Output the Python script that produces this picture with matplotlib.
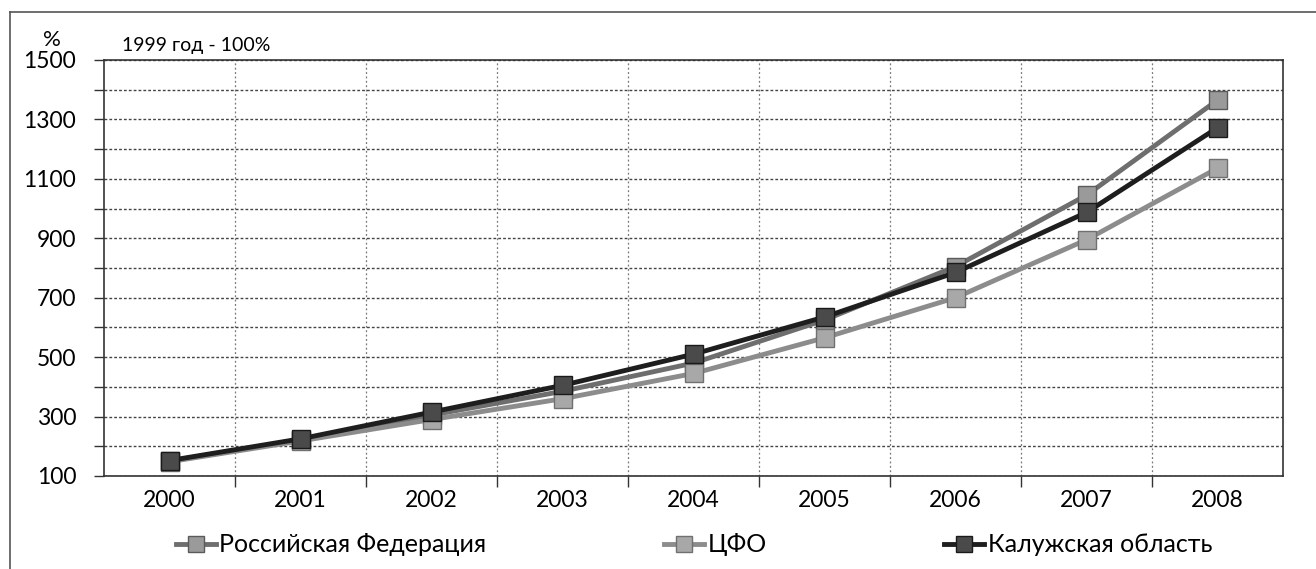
import matplotlib
matplotlib.use("Agg")
import matplotlib.pyplot as plt
from matplotlib.lines import Line2D
from matplotlib.ticker import FixedLocator

plt.rcParams['font.family'] = ['Lato', 'DejaVu Sans']

# values (1999 = 100%)
years = ['2000', '2001', '2002', '2003', '2004', '2005', '2006', '2007', '2008']
rf = [150, 222, 305, 385, 480, 625, 805, 1045, 1365]
cfo = [148, 218, 290, 360, 445, 565, 700, 895, 1136]
kaluga = [152, 225, 315, 405, 510, 635, 785, 987, 1272]

series_names = ['Российская Федерация', 'ЦФО', 'Калужская область']

W, H = 1316, 569
fig = plt.figure(figsize=(W / 100, H / 100), dpi=100)
ax = fig.add_axes([104 / W, 1 - 476 / H, (1283 - 104) / W, (476 - 60) / H])

x = list(range(len(years)))
ax.plot(x, rf, color='#6e6e6e', lw=3.5, marker='s', ms=13,
        mfc='#9a9a9a', mec='#5a5a5a', mew=1, label=series_names[0], zorder=3)
ax.plot(x, cfo, color='#8c8c8c', lw=3.5, marker='s', ms=13,
        mfc='#a8a8a8', mec='#707070', mew=1, label=series_names[1], zorder=3)
ax.plot(x, kaluga, color='#1e1e1e', lw=3.5, marker='s', ms=13,
        mfc='#4a4a4a', mec='#1a1a1a', mew=1, label=series_names[2], zorder=4)

ax.set_xlim(-0.5, len(years) - 0.5)
ax.set_ylim(100, 1500)

# labels every 200, grid every 100
ax.set_yticks(list(range(100, 1501, 200)))
ax.yaxis.set_minor_locator(FixedLocator(list(range(200, 1500, 200))))
ax.tick_params(axis='y', which='both', direction='out', length=7, width=1,
               color='#333333', labelsize=16.5, pad=13)
ax.grid(axis='y', which='both', color='#444444', ls=(0, (2, 1.5)), lw=1)

ax.set_xticks(x)
ax.set_xticklabels(years)
ax.xaxis.set_minor_locator(FixedLocator([i + 0.5 for i in range(len(years) - 1)]))
ax.tick_params(axis='x', which='major', length=0, labelsize=16.5, pad=10)
ax.tick_params(axis='x', which='minor', direction='out', length=8, width=1, color='#333333')
ax.grid(axis='x', which='minor', color='#777777', ls=(0, (1.5, 2)), lw=0.9)

for side in ['left', 'bottom', 'top', 'right']:
    ax.spines[side].set_color('#333333')
    ax.spines[side].set_linewidth(1.2)
ax.set_axisbelow(True)

fig.text(52 / W, 1 - 40 / H, '%', fontsize=16, ha='center', va='center')
fig.text(122 / W, 1 - 45 / H, '1999 год - 100%', fontsize=14, ha='left', va='center')

fig.legend(loc='center', bbox_to_anchor=(694 / W, 1 - 545 / H), ncol=3,
           frameon=False, fontsize=18, handlelength=1.6, handletextpad=0.15,
           columnspacing=7.1, markerscale=0.9)

# outer frame of the chart (left and top edges visible in the scan)
fig.add_artist(Line2D([10 / W, 10 / W], [0, 1 - 12 / H], transform=fig.transFigure,
                      color='#555555', lw=1.2))
fig.add_artist(Line2D([10 / W, 1], [1 - 12 / H, 1 - 12 / H], transform=fig.transFigure,
                      color='#555555', lw=1.2))

fig.savefig('out.png', dpi=100)
